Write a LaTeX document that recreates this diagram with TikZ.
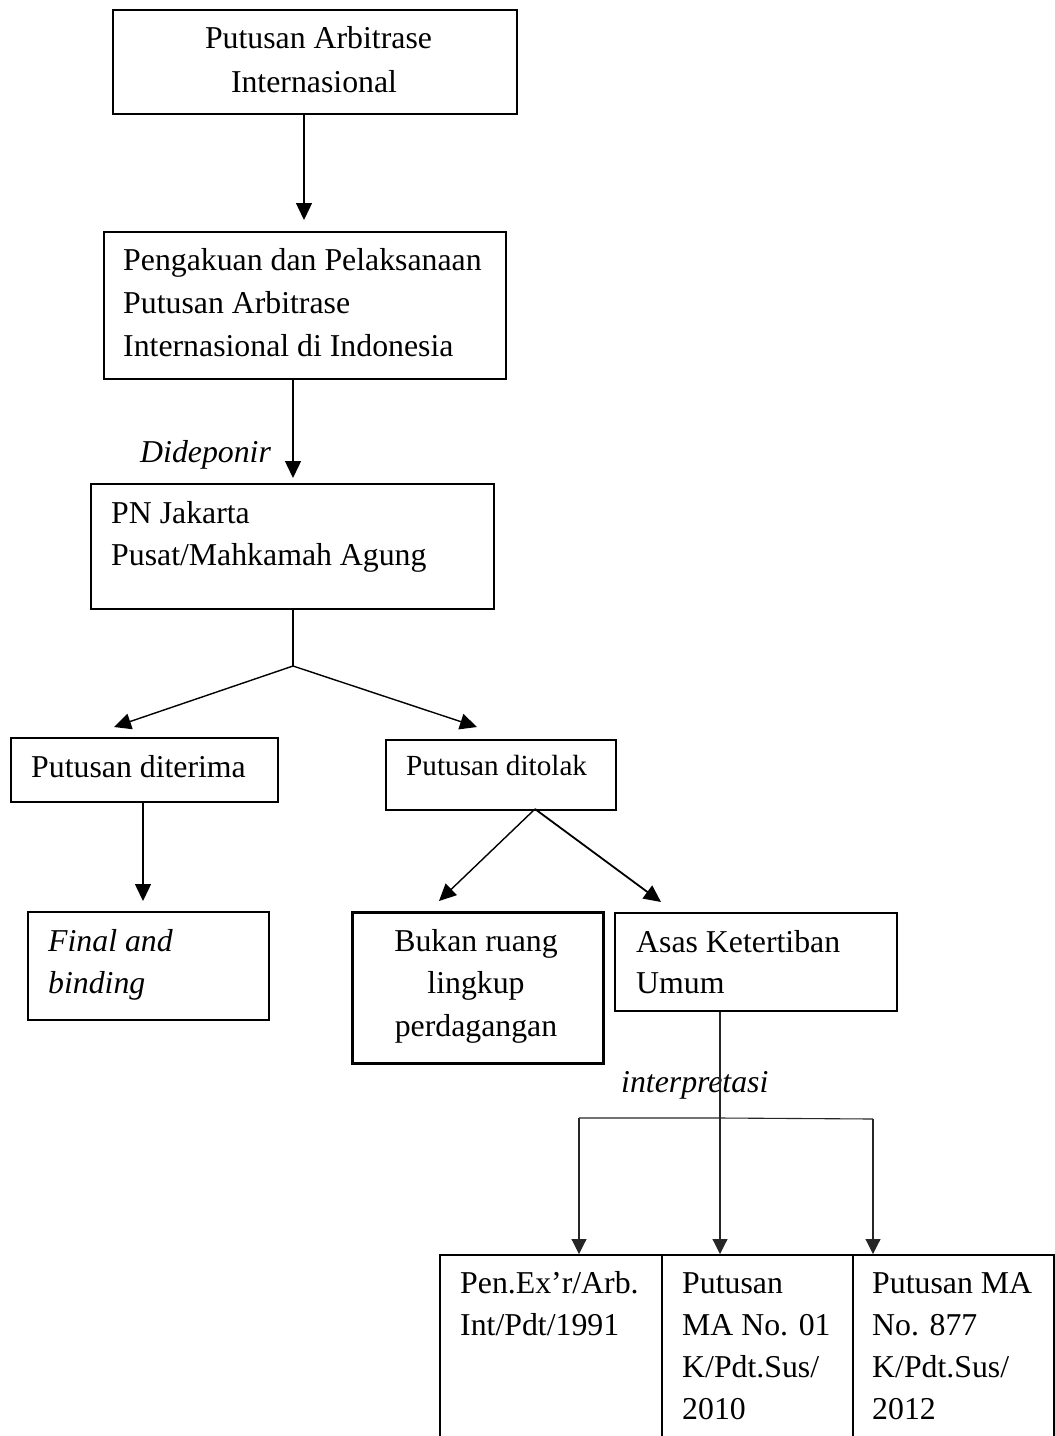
\documentclass[tikz,border=0pt]{standalone}
\usepackage{fontspec}
\setmainfont{Liberation Serif}
\usetikzlibrary{arrows.meta}
\begin{document}
\begin{tikzpicture}[x=1pt,y=-1pt,
  box/.style={draw, line width=1.8pt, inner sep=0pt, anchor=north west},
  txt/.style={anchor=base west, inner sep=0pt, font=\fontsize{31.8}{42}\selectfont},
  ctxt/.style={anchor=base, inner sep=0pt, font=\fontsize{31.8}{42}\selectfont},
  itxt/.style={txt, font=\fontsize{31.8}{42}\selectfont\itshape},
  arr/.style={line width=1.4pt, -{Triangle[width=16pt,length=17pt]}},
  thin/.style={line width=1.1pt, draw=black!85},
  thinarr/.style={thin, -{Triangle[width=15pt,length=15pt]}},
  ln/.style={line width=1.2pt}]
\path[use as bounding box, clip] (0,0) rectangle (1055,1436);

% boxes
\node[box, minimum width=404pt, minimum height=104pt] (b1) at (112,9) {};
\node[box, minimum width=402pt, minimum height=147pt] (b2) at (103,231) {};
\node[box, minimum width=403pt, minimum height=125pt] (b3) at (90,483) {};
\node[box, minimum width=267pt, minimum height=64pt] (b4) at (10,737) {};
\node[box, minimum width=230pt, minimum height=70pt] (b5) at (385,739) {};
\node[box, minimum width=241pt, minimum height=108pt] (b6) at (27,911) {};
\node[box, line width=2.8pt, minimum width=251pt, minimum height=151pt] (b7) at (351,911) {};
\node[box, minimum width=282pt, minimum height=98pt] (b8) at (614,912) {};
\node[box, minimum width=222pt, minimum height=250pt] (c1) at (439,1254) {};
\node[box, minimum width=191pt, minimum height=250pt] (c2) at (661,1254) {};
\node[box, minimum width=201pt, minimum height=250pt] (c3) at (852,1254) {};

% texts
\node[ctxt] (t1a) at (318.5,48) {Putusan Arbitrase};
\node[ctxt] (t1b) at (314,92) {Internasional};
\node[txt] (t2a) at (123,270) {Pengakuan dan Pelaksanaan};
\node[txt] (t2b) at (123,313) {Putusan Arbitrase};
\node[txt] (t2c) at (123,356) {Internasional di Indonesia};
\node[itxt] (dep) at (140,462) {Dideponir};
\node[txt] (t3a) at (111,523) {PN Jakarta};
\node[txt] (t3b) at (111,565) {Pusat/Mahkamah Agung};
\node[txt] (t4) at (31,777) {Putusan diterima};
\node[txt, font=\fontsize{29.2}{38}\selectfont] (t5) at (406,775) {Putusan ditolak};
\node[itxt] (t6a) at (48,951) {Final and};
\node[itxt] (t6b) at (48,993) {binding};
\node[ctxt] (t7a) at (476,951) {Bukan ruang};
\node[ctxt] (t7b) at (476,993) {lingkup};
\node[ctxt] (t7c) at (476,1036) {perdagangan};
\node[txt] (t8a) at (636,952) {Asas Ketertiban};
\node[txt] (t8b) at (636,993) {Umum};
\node[itxt] (intp) at (621,1092) {interpretasi};
\node[txt] (c1a) at (460,1293) {Pen.Ex’r/Arb.};
\node[txt] (c1b) at (460,1335) {Int/Pdt/1991};
\node[txt] (c2a) at (682,1293) {Putusan};
\node[txt] (c2b) at (682,1335) {MA No. 01};
\node[txt] (c2c) at (682,1377) {K/Pdt.Sus/};
\node[txt] (c2d) at (682,1419) {2010};
\node[txt] (c3a) at (872,1293) {Putusan MA};
\node[txt] (c3b) at (872,1335) {No. 877};
\node[txt] (c3c) at (872,1377) {K/Pdt.Sus/};
\node[txt] (c3d) at (872,1419) {2012};

% connector points
\coordinate (a1) at (304,220);
\coordinate (a2) at (293,478);
\coordinate (f1) at (293,666);
\coordinate (e4) at (114,727);
\coordinate (e5) at (477,727);
\coordinate (e6) at (143,901);
\coordinate (f2) at (535,809);
\coordinate (e7) at (439,901);
\coordinate (e8) at (661,902);
\coordinate (f3) at (720,1118);
\coordinate (h1) at (579,1118);
\coordinate (h2) at (873,1119);

% connectors
\draw[arr] (b1.south -| a1) -- (a1);
\draw[arr] (b2.south -| a2) -- (a2);
\draw[ln] (b3.south -| f1) -- (f1);
\draw[arr] (f1) -- (e4);
\draw[arr] (f1) -- (e5);
\draw[arr] (b4.south -| e6) -- (e6);
\draw[arr] (f2) -- (e7);
\draw[arr, line width=1.8pt] (f2) -- (e8);
\draw[thinarr] (b8.south -| f3) -- (c2.north -| f3);
\draw[thin] (h1) -- (f3) -- (h2);
\draw[thinarr] (h1) -- (c1.north -| h1);
\draw[thinarr] (h2) -- (c3.north -| h2);
\end{tikzpicture}
\end{document}
